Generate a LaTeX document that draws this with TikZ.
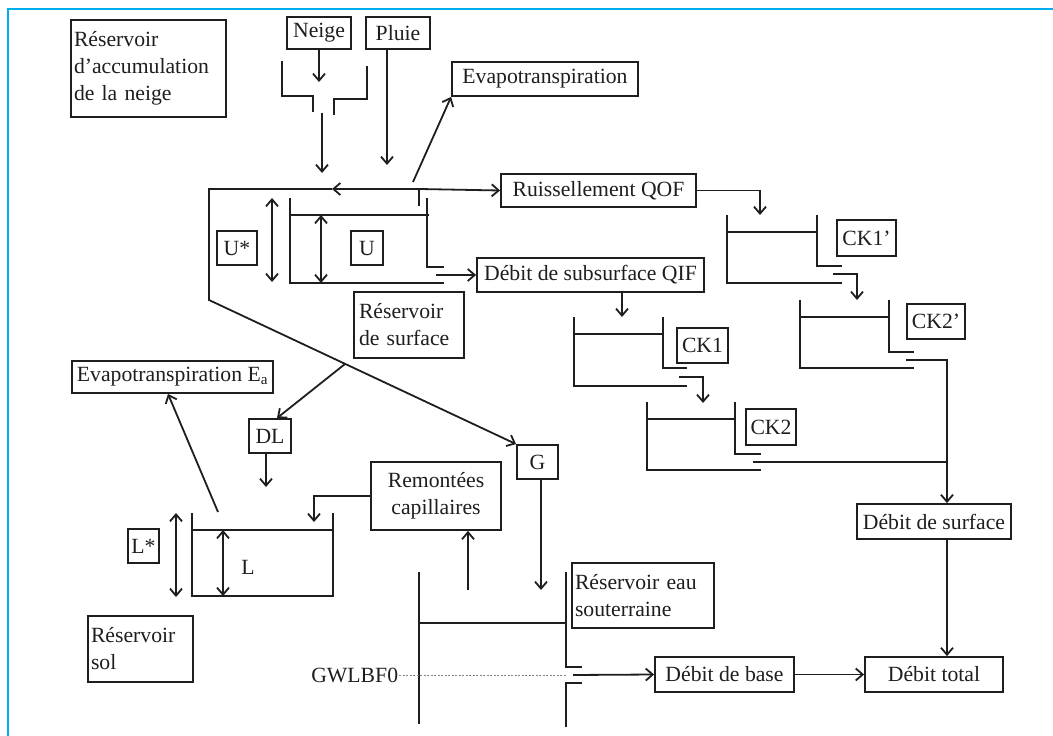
\documentclass[tikz,border=0pt]{standalone}
\usepackage{fontspec}
\setmainfont{Liberation Serif}
\usetikzlibrary{arrows.meta}

\definecolor{framecol}{RGB}{0,174,239}
\definecolor{inkcol}{RGB}{30,30,30}

\begin{document}
\begin{tikzpicture}[x=1pt, y=-1pt, line width=1.8pt, color=inkcol,
        >={Straight Barb[length=7pt,width=12pt]},
        label text/.style={font=\fontsize{21.7}{27}\selectfont, inner sep=0pt},
        flow box/.style={label text, draw, line width=1.8pt},
        level line/.style={dash pattern=on 2pt off 1.5pt, line width=0.7pt, gray}]

    \useasboundingbox (0,0) rectangle (1053,736);
    \draw[framecol, line width=2.5pt] (8,736) -- (8,9) -- (1053,9);

    % Boites
    \node[flow box, text width=149pt, inner xsep=3pt, minimum height=97pt, align=left] (accum) at (148.5,68.5) {Réservoir\\d’accumulation\\de la neige};
    \node[flow box, minimum width=64pt, minimum height=32pt] (neige) at (319,33) {Neige};
    \node[flow box, minimum width=64pt, minimum height=32pt] (pluie) at (398,33) {Pluie};
    \node[flow box, minimum width=186pt, minimum height=34pt] (evap) at (545,79) {Evapotranspiration};
    \node[flow box, minimum width=195pt, minimum height=33pt] (qof) at (598.5,190.5) {Ruissellement QOF};
    \node[flow box, minimum width=227pt, minimum height=34pt] (qif) at (590.5,275) {Débit de subsurface QIF};
    \node[flow box, minimum width=40pt, minimum height=34pt] (ustar) at (237,248) {U*};
    \node[flow box, minimum width=32pt, minimum height=34pt] (u) at (367,248) {U};
    \node[flow box, text width=100pt, inner xsep=5pt, minimum height=66pt, align=left] (surf) at (409,325) {Réservoir\\de surface};
    \node[flow box, minimum width=59pt, minimum height=36pt] (ckonep) at (866.5,238) {CK1’};
    \node[flow box, minimum width=58pt, minimum height=35pt] (cktwop) at (936,321.5) {CK2’};
    \node[flow box, minimum width=51pt, minimum height=35pt] (ckone) at (702.5,345.5) {CK1};
    \node[flow box, minimum width=50pt, minimum height=36pt] (cktwo) at (771,427) {CK2};
    \node[flow box, minimum width=201pt, minimum height=32pt] (evapa) at (172.5,377) {Evapotranspiration E\textsubscript{a}};
    \node[flow box, minimum width=42pt, minimum height=34pt] (dl) at (270,436) {DL};
    \node[flow box, minimum width=41pt, minimum height=34pt] (g) at (537.5,462) {G};
    \node[flow box, minimum width=130pt, minimum height=68pt, align=center] (remont) at (436,496) {Remontées\\capillaires};
    \node[flow box, minimum width=31pt, minimum height=34pt] (lstar) at (143.5,546) {L*};
    \node[label text] (l) at (248,567) {L};
    \node[flow box, text width=99pt, inner xsep=3pt, minimum height=66pt, align=left] (sol) at (140.5,649) {Réservoir\\sol};
    \node[flow box, text width=136pt, inner xsep=3pt, minimum height=65pt, align=left] (souter) at (643,595.5) {Réservoir eau\\souterraine};
    \node[flow box, minimum width=154pt, minimum height=35pt] (qsurf) at (934,521.5) {Débit de surface};
    \node[flow box, minimum width=138pt, minimum height=35pt] (qtot) at (934,674.5) {Débit total};
    \node[flow box, minimum width=139pt, minimum height=35pt] (qbase) at (724.5,674.5) {Débit de base};
    \node[label text, anchor=east] (gwl) at (399,675) {GWLBF0};

    % Points de raccord
    \coordinate (neigein) at (319,82);
    \coordinate (fontetop) at (322,113);
    \coordinate (fontein) at (322,173);
    \coordinate (pluiein) at (387,165);
    \coordinate (etstart) at (413,182);
    \coordinate (split) at (420,189);
    \coordinate (uin) at (332,189);
    \coordinate (ucorner) at (209,189);
    \coordinate (ubend) at (209,300);
    \coordinate (dlsplit) at (345,364);
    \coordinate (qifstart) at (436,275);
    \coordinate (ckonepin) at (760,215);
    \coordinate (ckonein) at (622,317);
    \coordinate (ckonepout) at (833,274);
    \coordinate (cktwopin) at (857,300);
    \coordinate (ckoneout) at (679,377);
    \coordinate (cktwoin) at (703,403);
    \coordinate (cktwopout) at (906,360);
    \coordinate (collect) at (947,360);
    \coordinate (cktwoout) at (753,462);
    \coordinate (soilin) at (266,487);
    \coordinate (eastart) at (218,512);
    \coordinate (capin) at (314,522);
    \coordinate (capstart) at (468,590);
    \coordinate (gwin) at (541,590);
    \coordinate (baseout) at (573,675);
    \coordinate (gwlend) at (567,675);

    % Reservoirs
    \draw (282,61) -- (282,96) -- (313,96) -- (313,112);
    \draw (367,66) -- (367,99) -- (334,99) -- (334,115);
    \draw (419,189) -- (419,206);
    \draw (290,198) -- (290,283) -- (444,283);
    \draw (427,198) -- (427,267) -- (444,267);
    \draw (290,215) -- (429,215);
    \draw (727,215) -- (727,283) -- (842,283);
    \draw (817,215) -- (817,266) -- (842,266);
    \draw (727,232) -- (817,232);
    \draw (800,300) -- (800,368) -- (914,368);
    \draw (889,300) -- (889,352) -- (914,352);
    \draw (800,317) -- (889,317);
    \draw (574,317) -- (574,386) -- (687,386);
    \draw (663,317) -- (663,368) -- (687,368);
    \draw (574,334) -- (663,334);
    \draw (647,402) -- (647,470) -- (761,470);
    \draw (735,402) -- (735,454) -- (761,454);
    \draw (647,419) -- (735,419);
    \draw (192,513) -- (192,596) -- (333,596) -- (333,513);
    \draw (192,530) -- (333,530);
    \draw (419,572) -- (419,724);
    \draw (419,623) -- (566,623);
    \draw (566,572) -- (566,667) -- (582,667);
    \draw (582,683) -- (566,683) -- (566,727);

    % Hauteurs
    \draw[<->] (272,198) -- (272,282);
    \draw[<->] (321,215) -- (321,283);
    \draw[<->] (176,513) -- (176,597);
    \draw[<->] (223,530) -- (223,596);

    % Flux
    \draw[->] (neige) -- (neigein);
    \draw[->] (fontetop) -- (fontein);
    \draw[->] ([xshift=-11pt]pluie.south) -- (pluiein);
    \draw[->] (etstart) -- (evap.south west);
    \draw[->] (split) -- (qof.west);
    \draw[->] (split) -- (uin);
    \draw[->] (uin) -- (ucorner) -- (ubend) -- (g.north west);
    \draw[->] (dlsplit) -- ([xshift=7pt]dl.north);
    \draw[->] (dl.south -| soilin) -- (soilin);
    \draw[->] (qifstart) -- (qif.west);
    \draw[->] (qof.east) -| (ckonepin);
    \draw[->] (qif.south -| ckonein) -- (ckonein);
    \draw[->] (ckonepout) -| (cktwopin);
    \draw[->] (ckoneout) -| (cktwoin);
    \draw[->] (cktwopout) -- (collect) -- (collect |- qsurf.north);
    \draw (cktwoout) -- (cktwoout -| collect);
    \draw[->] (collect |- qsurf.south) -- (collect |- qtot.north);
    \draw[->] (qbase) -- (qtot);
    \draw[->] (baseout) -- (qbase.west);
    \draw[level line] (gwl) -- (gwlend);
    \draw[->] (g.south -| gwin) -- (gwin);
    \draw[->] (capstart) -- (capstart |- remont.south);
    \draw[->] (remont.west) -| (capin);
    \draw[->] (eastart) -- ([xshift=-4.5pt]evapa.south);
\end{tikzpicture}
\end{document}
